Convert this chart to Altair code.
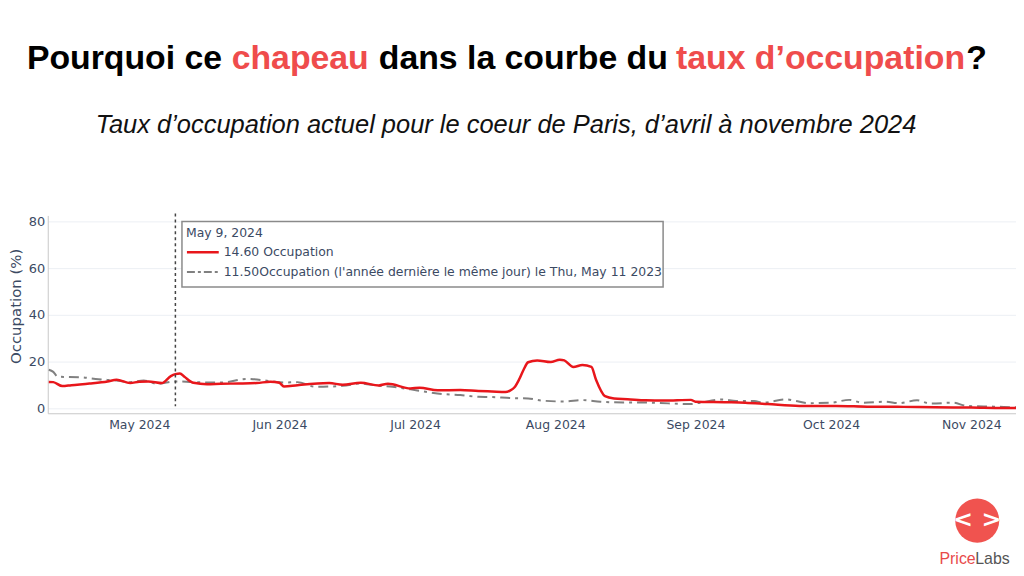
import altair as alt
import pandas as pd

# ---- data ----
red_dates = ["2024-04-11", "2024-04-12", "2024-04-14", "2024-04-16", "2024-04-20", "2024-04-24",
             "2024-04-26", "2024-04-29", "2024-05-01", "2024-05-03", "2024-05-06", "2024-05-08",
             "2024-05-09", "2024-05-10", "2024-05-11", "2024-05-13", "2024-05-16", "2024-05-19",
             "2024-05-23", "2024-05-27", "2024-05-30", "2024-06-01", "2024-06-02", "2024-06-05",
             "2024-06-12", "2024-06-15", "2024-06-19", "2024-06-23", "2024-06-25", "2024-06-30",
             "2024-07-02", "2024-07-06", "2024-07-11", "2024-07-15", "2024-07-18", "2024-07-21",
             "2024-07-22", "2024-07-23", "2024-07-24", "2024-07-25", "2024-07-26", "2024-07-28",
             "2024-07-31", "2024-08-02", "2024-08-03", "2024-08-05", "2024-08-07", "2024-08-09",
             "2024-08-10", "2024-08-12", "2024-08-14", "2024-08-17", "2024-08-21", "2024-08-25",
             "2024-08-31", "2024-09-01", "2024-09-08", "2024-09-12", "2024-09-17", "2024-09-24",
             "2024-10-02", "2024-10-09", "2024-10-17", "2024-10-24", "2024-11-01", "2024-11-08",
             "2024-11-11"]
red_vals = [11.3, 11.2, 9.5, 9.9, 10.6, 11.5,
            12.2, 10.8, 11.4, 11.5, 10.8, 13.8,
            14.6, 14.9, 13.5, 10.9, 10.3, 10.5,
            10.6, 10.8, 11.4, 10.9, 9.3, 9.9,
            10.8, 10.1, 10.9, 9.8, 10.5, 8.5,
            8.8, 7.7, 7.8, 7.4, 7.2, 7.0,
            7.6, 9.0, 12.3, 16.5, 19.7, 20.5,
            19.8, 20.8, 20.5, 17.7, 18.5, 17.7,
            12.3, 5.2, 4.2, 3.9, 3.4, 3.3,
            3.6, 2.8, 2.6, 2.4, 1.8, 1.0,
            1.0, 0.7, 0.6, 0.4, 0.3, 0.1,
            0.1]

gray_dates = ["2024-04-11", "2024-04-12", "2024-04-13", "2024-04-18", "2024-04-22", "2024-04-26",
              "2024-04-29", "2024-05-02", "2024-05-05", "2024-05-09", "2024-05-13", "2024-05-19",
              "2024-05-25", "2024-05-30", "2024-06-02", "2024-06-05", "2024-06-09", "2024-06-15",
              "2024-06-19", "2024-06-23", "2024-06-26", "2024-06-30", "2024-07-03", "2024-07-07",
              "2024-07-11", "2024-07-15", "2024-07-18", "2024-07-22", "2024-07-26", "2024-07-29",
              "2024-08-03", "2024-08-07", "2024-08-11", "2024-08-16", "2024-08-20", "2024-08-26",
              "2024-08-31", "2024-09-02", "2024-09-07", "2024-09-10", "2024-09-14", "2024-09-16",
              "2024-09-21", "2024-09-23", "2024-09-26", "2024-10-01", "2024-10-05", "2024-10-08",
              "2024-10-13", "2024-10-16", "2024-10-20", "2024-10-23", "2024-10-28", "2024-10-31",
              "2024-11-06", "2024-11-11"]
gray_vals = [16.5, 15.6, 13.5, 13.3, 12.4, 11.9,
             11.2, 11.9, 10.5, 11.5, 11.2, 11.0,
             12.6, 11.6, 11.0, 11.2, 9.2, 9.6,
             10.6, 9.6, 9.2, 8.1, 7.2, 6.1,
             5.7, 4.9, 4.8, 4.4, 4.2, 3.3,
             2.9, 3.5, 2.8, 2.5, 2.5, 2.1,
             1.8, 2.4, 3.8, 3.1, 3.1, 2.4,
             3.8, 3.2, 2.2, 2.4, 3.6, 2.4,
             2.8, 2.2, 3.4, 2.0, 2.4, 1.0,
             0.7, 0.4]

month_ticks = [5, 6, 7, 8, 9, 10, 11]
y_ticks = [0, 20, 40, 60, 80]
marker_date = ["2024-05-09"]

title_parts = ["Pourquoi ce", "chapeau", "dans la courbe du", "taux d\u2019occupation", "?"]
subtitle = "Taux d\u2019occupation actuel pour le coeur de Paris, d\u2019avril à novembre 2024"
hover_date = "May 9, 2024"
hover_red = "14.60 Occupation"
hover_gray = "11.50Occupation (l'année dernière le même jour) le Thu, May 11 2023"

red_df = pd.DataFrame({"date": red_dates, "occ": red_vals})
gray_df = pd.DataFrame({"date": gray_dates, "occ": gray_vals})
one = pd.DataFrame({"k": [0]})

RED = "#e8161b"
GRAY = "#808080"
AX = "#3b4a63"
ACCENT = "#ef4c4c"

xscale = alt.Scale(type="utc",
                   domain=[alt.DateTime(year=2024, month=4, date=10, hours=18, minutes=40, utc=True),
                           alt.DateTime(year=2024, month=11, date=10, hours=21, minutes=20, utc=True)])
yscale = alt.Scale(domain=[-2.13, 82.55], nice=False, zero=False)

xaxis = alt.Axis(values=[alt.DateTime(year=2024, month=m, date=1, utc=True) for m in month_ticks],
                 format="%b %Y", title=None, grid=False, ticks=False,
                 labelFont="DejaVu Sans", labelFontSize=12.5, labelColor=AX, labelPadding=5,
                 domainColor="#c8c8c8", domainWidth=1)
yaxis = alt.Axis(values=y_ticks, title="Occupation (%)", grid=True, gridColor="#eceff4", ticks=False,
                 labelFont="DejaVu Sans", labelFontSize=13, labelColor=AX, labelPadding=3,
                 domainColor="#c8c8c8", domainWidth=1,
                 titleFont="DejaVu Sans", titleFontSize=15, titleFontWeight="normal", titleColor=AX,
                 titleAngle=270, titleX=-32, titleY=91, titleAlign="center", titleBaseline="middle")

gray_line = alt.Chart(gray_df).mark_line(color=GRAY, strokeWidth=2, strokeDash=[10, 5, 3, 5],
                                         interpolate="monotone", clip=True).encode(
    x=alt.X("date:T", scale=xscale, axis=xaxis),
    y=alt.Y("occ:Q", scale=yscale, axis=yaxis),
)
red_line = alt.Chart(red_df).mark_line(color=RED, strokeWidth=2.5, interpolate="monotone",
                                       clip=True).encode(
    x=alt.X("date:T"),
    y=alt.Y("occ:Q"),
)

marker = alt.Chart(pd.DataFrame({"date": marker_date})).mark_rule(
    color="#444444", strokeWidth=1.5, strokeDash=[3, 3]).encode(
    x=alt.X("date:T"), y=alt.value(-2), y2=alt.value(192))

box = alt.Chart(one).mark_rect(fill="white", stroke="#8a8a8a", strokeWidth=1.5).encode(
    x=alt.value(135), x2=alt.value(619), y=alt.value(6), y2=alt.value(72))
sample_red = alt.Chart(one).mark_rule(color=RED, strokeWidth=2.5).encode(
    x=alt.value(140), x2=alt.value(172), y=alt.value(37))
sample_gray = alt.Chart(one).mark_rule(color=GRAY, strokeWidth=2, strokeDash=[8, 3, 3, 3]).encode(
    x=alt.value(140), x2=alt.value(172), y=alt.value(57))


def txt(s, x, y, size, color, font="DejaVu Sans", weight="normal", style="normal", align="left"):
    return alt.Chart(one).mark_text(text=s, font=font, fontSize=size, fontWeight=weight,
                                    fontStyle=style, color=color, align=align,
                                    baseline="alphabetic").encode(
        x=alt.value(x), y=alt.value(y))


hover_texts = [
    txt(hover_date, 139, 22, 12.5, AX),
    txt(hover_red, 177, 41, 12.5, AX),
    txt(hover_gray, 177, 61, 12.5, AX),
]

title_x = [27, 233, 381, 680, 972]
title_c = ["#000000", ACCENT, "#000000", ACCENT, "#000000"]
title_layers = [txt(s, x - 48, -147, 34, c, font="Liberation Sans", weight="bold")
                for s, x, c in zip(title_parts, title_x, title_c)]
sub_layer = txt(subtitle, 461, -83, 25.6, "#111111", font="Liberation Sans", style="italic",
                align="center")

logo_circle = alt.Chart(one).mark_circle(size=1963, color="#f0534f", opacity=1).encode(
    x=alt.value(935), y=alt.value(307))
logo_icon = alt.Chart(one).mark_text(text="< >", font="DejaVu Sans", fontWeight="bold", fontSize=24,
                                     color="white", align="center", baseline="middle").encode(
    x=alt.value(935), y=alt.value(306))
logo_t1 = txt("Price", 897, 351, 16, "#e84a4a", font="Liberation Sans")
logo_t2 = txt("Labs", 933, 351, 16, "#555555", font="Liberation Sans")

chart = alt.layer(
    gray_line, red_line, marker, box, sample_red, sample_gray, *hover_texts,
    *title_layers, sub_layer, logo_circle, logo_icon, logo_t1, logo_t2
).properties(
    width=974, height=199,
    autosize=alt.AutoSizeParams(type="none"),
    padding={"left": 40, "top": 207, "right": 0, "bottom": 156},
    background="white",
).configure_view(stroke=None)

chart.save("out.html", embed_options={"renderer": "svg", "actions": False})
